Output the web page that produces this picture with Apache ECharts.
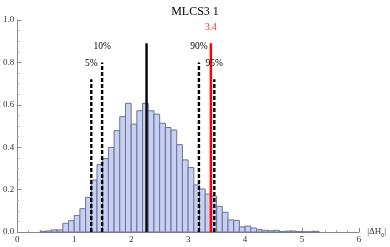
<!DOCTYPE html>
<html><head><meta charset="utf-8">
<script src="https://cdn.jsdelivr.net/npm/echarts@6/dist/echarts.min.js"></script>
<style>html,body{margin:0;padding:0;background:#fff}#c{width:390px;height:247px}</style>
</head><body><div id="c"></div>
<script>
var binStart = 0.4;
var binWidth = 0.1;
var binValues = [0.003,0.005,0.010,0.010,0.041,0.053,0.078,0.110,0.164,0.245,0.318,0.346,0.399,0.478,0.544,0.607,0.509,0.572,0.607,0.572,0.556,0.513,0.493,0.481,0.412,0.340,0.304,0.222,0.203,0.179,0.170,0.121,0.093,0.057,0.055,0.024,0.028,0.019,0.011,0.008,0.006,0.008,0.002,0.004,0.005,0.002,0.001,0.001,0.003];
var markerNames = ['5%','10%','median','90%','observed','95%'];
var markerX = [1.30,1.49,2.27,3.19,3.40,3.46];
var markerTop = [0.72,0.80,0.89,0.80,0.89,0.72];
var markerLabels = ['5%','10%','','90%','3.4','95%'];
var xTicks = [0,1,2,3,4,5,6];
var yTicks = [0,0.2,0.4,0.6,0.8,1.0];

var binData = binValues.map(function(v,i){
  var s = +(binStart + i*binWidth).toFixed(2);
  return [s, +(s+binWidth).toFixed(2), v];
});
var serif = '"Liberation Serif","DejaVu Serif",serif';
var series = [{
  type:'custom',
  data: binData,
  encode:{x:[0,1], y:2},
  renderItem:function(params, api){
    var p0 = api.coord([api.value(0), 0]);
    var p1 = api.coord([api.value(1), api.value(2)]);
    return {type:'rect', shape:{x:p0[0], y:p1[1], width:p1[0]-p0[0], height:p0[1]-p1[1]},
      style:{fill:'#c7cff3', stroke:'#6e7390', lineWidth:1}};
  },
  z:1
}];
markerX.forEach(function(x,i){
  var isRed = markerNames[i]==='observed';
  var isSolid = markerNames[i]==='median' || isRed;
  series.push({
    type:'line', name:markerNames[i], symbol:'none', silent:true, z:5,
    data:[[x,0],[x,markerTop[i]]],
    lineStyle:{color:isRed?'#ff0000':'#000', width:isRed?2.5:2.4, type:isSolid?'solid':[4,2]}
  });
});
series.push({
  type:'scatter', name:'labels', silent:true, z:6,
  symbol:'rect', symbolSize:1,
  itemStyle:{color:'rgba(0,0,0,0)', opacity:1},
  data: markerX.map(function(x,i){
    var isRed = markerNames[i]==='observed';
    return {value:[x, markerTop[i]], label:{show:markerLabels[i]!=='', formatter:markerLabels[i], position:'top', distance:10,
      color:isRed?'#ff2a2a':'#000', fontFamily:serif, fontSize:9.5}};
  })
});
var chart = echarts.init(document.getElementById('c'), null, {renderer:'canvas'});
chart.setOption({
  animation:false,
  title:{text:'MLCS3 1', left:'center', top:1, textStyle:{fontFamily:serif, fontSize:12, fontWeight:'normal', color:'#000'}},
  grid:{left:16, right:31, top:20, bottom:15, containLabel:false},
  xAxis:{type:'value', min:xTicks[0], max:xTicks[xTicks.length-1], interval:1,
    name:'|ΔH{s|0}|', nameLocation:'end', nameGap:8,
    nameTextStyle:{fontFamily:serif, fontSize:9, color:'#333', rich:{s:{fontFamily:serif, fontSize:6, verticalAlign:'bottom', padding:[6,0,0,0], color:'#333'}}},
    axisLine:{lineStyle:{color:'#888'}},
    axisTick:{inside:true, length:4, lineStyle:{color:'#888'}},
    minorTick:{show:true, splitNumber:5, length:2, lineStyle:{color:'#aaa'}},
    splitLine:{show:false},
    axisLabel:{fontFamily:serif, fontSize:9, color:'#333', margin:3}
  },
  yAxis:{type:'value', min:yTicks[0], max:yTicks[yTicks.length-1], interval:0.2,
    axisLine:{show:true, lineStyle:{color:'#888'}},
    axisTick:{show:true, inside:true, length:4, lineStyle:{color:'#888'}},
    minorTick:{show:true, splitNumber:4, length:2, lineStyle:{color:'#aaa'}},
    splitLine:{show:false},
    axisLabel:{fontFamily:serif, fontSize:9, color:'#333', margin:3, formatter:function(v){return v.toFixed(1);}}
  },
  series:series
});
</script></body></html>
